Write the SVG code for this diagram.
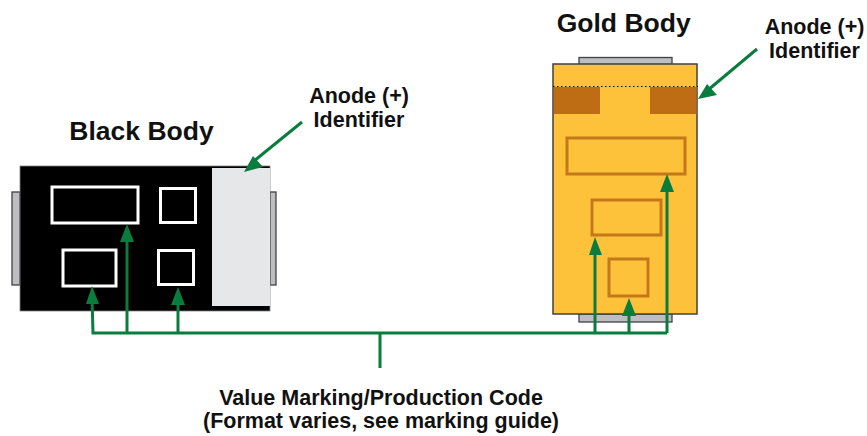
<svg xmlns="http://www.w3.org/2000/svg" width="867" height="436" viewBox="0 0 867 436">
<style>
text{font-family:"Liberation Sans",Arial,sans-serif;font-weight:700;fill:#111;text-anchor:middle}
.t{font-size:21.5px}
.h{font-size:26.5px}
.lead{fill:#bcbec0;stroke:#414042;stroke-width:1.3}
.w{fill:none;stroke:#fff;stroke-width:3}
.o{fill:none;stroke:#c4781a;stroke-width:3}
.b{fill:#bf6d14}
.c{fill:none;stroke:#0a7d3e;stroke-width:3}
.a{fill:#0a7d3e}
</style>
<g id="black-body">
<rect class="lead" x="12" y="192" width="8" height="93"/>
<rect class="lead" x="270" y="192" width="6" height="93"/>
<rect x="20" y="166" width="250" height="145" fill="#000" stroke="#808285" stroke-width="0.8"/>
<rect x="212" y="168" width="58" height="138" fill="#e6e7e8"/>
<rect class="w" x="52" y="187" width="86" height="36"/>
<rect class="w" x="160.500" y="188.500" width="35" height="34"/>
<rect class="w" x="63" y="250" width="53" height="36"/>
<rect class="w" x="158.500" y="250.500" width="35" height="34"/>
</g>
<g id="gold-body">
<rect class="lead" x="579" y="57.500" width="93" height="7" stroke-width="1.5"/>
<rect class="lead" x="579" y="314" width="93" height="8" stroke-width="1.5"/>
<rect x="553" y="64" width="144" height="250" fill="#fec23a" stroke="#414042" stroke-width="1.500"/>
<rect class="b" x="554" y="87" width="46" height="27"/>
<rect class="b" x="650" y="87" width="46.500" height="27"/>
<line x1="553" y1="86.500" x2="698" y2="86.500" stroke="#000" stroke-width="1" stroke-dasharray="1.500 2.500"/>
<rect class="o" x="567" y="138" width="118" height="36"/>
<rect class="o" x="592" y="200" width="69" height="35"/>
<rect class="o" x="609" y="259" width="39" height="37"/>
</g>
<g id="connectors">
<path class="c" d="M92 298L93 333H667M127 240V333M178 298V333M595 255V333M629 312V333M667 192V333M380 333V368"/>
<path class="a" d="M92 286L99 304H86ZM127 224L134 242H120ZM178 287L185 305H171ZM595 237L602 255H589ZM629 298L636 316H622ZM667 174L674 192H660Z"/>
<path class="c" d="M302 122L254 161M757 49L708 90"/>
<path class="a" d="M244 172L253 156L263 167ZM698 99L707 84L717 95Z"/>
</g>
<g id="labels">
<text class="h" x="141.500" y="139.500">Black Body</text>
<text class="h" x="623.700" y="31.500">Gold Body</text>
<text class="t" x="359" y="103">Anode (+)</text>
<text class="t" x="359" y="127">Identifier</text>
<text class="t" x="814.500" y="34">Anode (+)</text>
<text class="t" x="814.500" y="58">Identifier</text>
<text class="t" x="381" y="405">Value Marking/Production Code</text>
<text class="t" x="381" y="428">(Format varies, see marking guide)</text>
</g>
</svg>
